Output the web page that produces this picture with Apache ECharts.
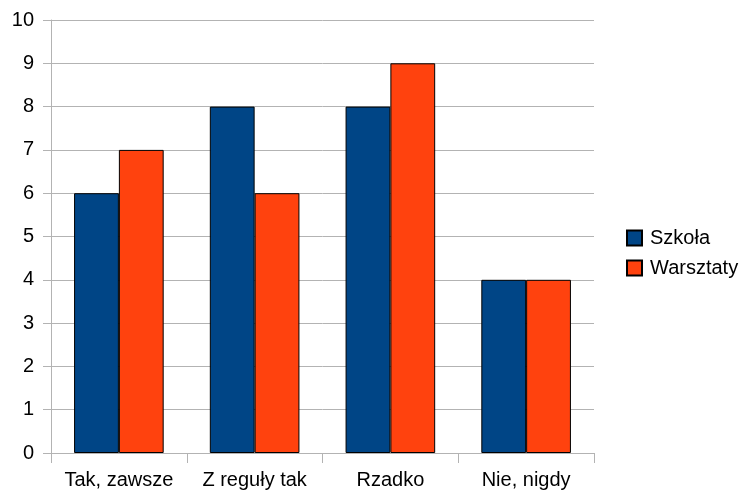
<!DOCTYPE html>
<html>
<head>
<meta charset="utf-8">
<script src="https://cdn.jsdelivr.net/npm/echarts@6/dist/echarts.min.js"></script>
<style>html,body{margin:0;padding:0;background:#fff}#c{width:744px;height:495px}</style>
</head>
<body>
<div id="c"></div>
<script>
var categories = ["Tak, zawsze", "Z reguły tak", "Rzadko", "Nie, nigdy"];
var szkola = [6, 8, 8, 4];
var warsztaty = [7, 6, 9, 4];
var seriesNames = ["Szkoła", "Warsztaty"];

var chart = echarts.init(document.getElementById('c'), null, {renderer: 'canvas'});
var font = 'Liberation Sans, Arial, sans-serif';
chart.setOption({
  animation: false,
  backgroundColor: '#ffffff',
  textStyle: {fontFamily: font},
  grid: {left: 51, right: 150, top: 20, bottom: 42, containLabel: false},
  legend: {
    orient: 'vertical', left: 621, top: 223,
    itemWidth: 15, itemHeight: 15, itemGap: 10,
    icon: 'rect',
    textStyle: {fontSize: 20, color: '#000', fontFamily: font, padding: [0,0,0,3]},
    data: seriesNames
  },
  xAxis: {
    type: 'category', data: categories,
    axisLine: {lineStyle: {color: '#b3b3b3', width: 1}},
    axisTick: {show: true, length: 10, lineStyle: {color: '#b3b3b3'}},
    axisLabel: {fontSize: 20, color: '#000', margin: 17, fontFamily: font, interval: 0},
    splitLine: {show: false}
  },
  yAxis: {
    type: 'value', min: 0, max: 10, interval: 1,
    axisLine: {show: true, lineStyle: {color: '#b3b3b3', width: 1}},
    axisTick: {show: true, length: 8, lineStyle: {color: '#b3b3b3'}},
    axisLabel: {fontSize: 20, color: '#000', margin: 17, fontFamily: font},
    splitLine: {show: true, lineStyle: {color: '#b3b3b3', width: 1}}
  },
  series: [
    {name: seriesNames[0], type: 'bar', data: szkola, barGap: '0%', barCategoryGap: '34%',
     itemStyle: {color: '#004586', borderColor: '#000', borderWidth: 1}},
    {name: seriesNames[1], type: 'bar', data: warsztaty, barGap: '0%', barCategoryGap: '34%',
     itemStyle: {color: '#ff420e', borderColor: '#000', borderWidth: 1}}
  ]
});
</script>
</body>
</html>
